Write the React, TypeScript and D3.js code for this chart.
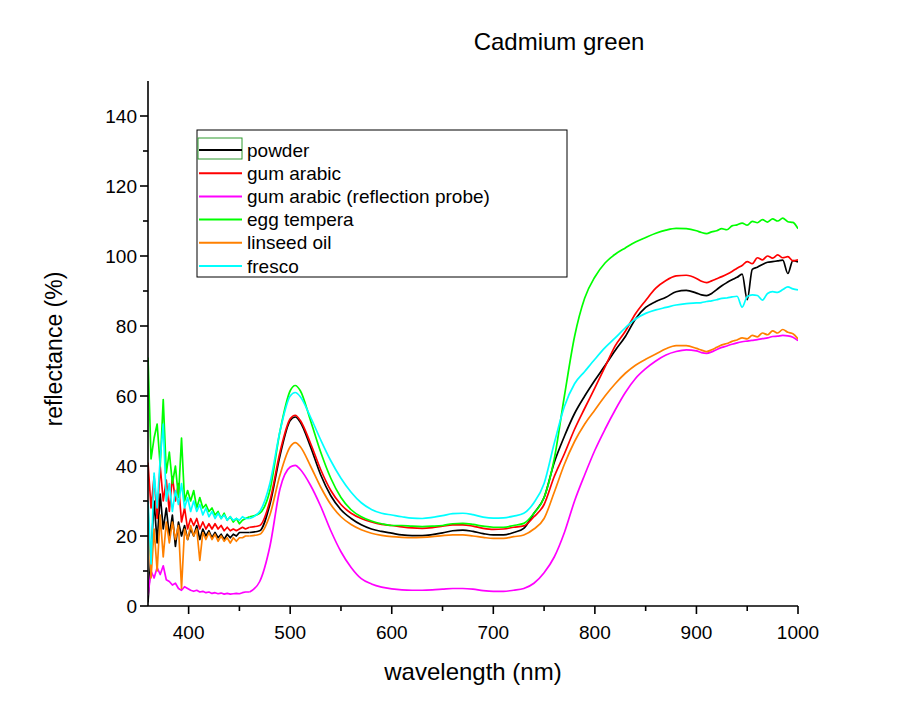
import React from 'react';
import * as d3 from 'd3';

// wavelength grid (nm): dense where the spectra are noisy
const wavelengths = [
  360, 363, 366, 369, 372, 375, 378, 381, 384, 387, 390, 393, 396, 399, 402, 405, 408, 411, 414, 417,
  420, 423, 426, 429, 432, 435, 438, 441, 444, 447, 450, 453, 456,
  460, 470, 480, 490, 500, 505, 510, 520, 530, 540, 550, 560, 570, 580, 590,
  600, 610, 620, 630, 640, 650, 660, 670, 680, 690,
  700, 710, 720, 730, 740, 750, 760, 770, 780, 790,
  800, 810, 820, 830, 840, 850, 860, 870, 880, 890,
  900, 905, 910, 915, 920, 925, 930, 935, 940, 945, 950, 955, 960, 965, 970, 975, 980, 985, 990, 995, 1000,
];
// index of 460 nm: noisy part before it is drawn with straight segments
const smoothFrom = 33;

const powder = [
  1, 15, 30, 18, 32, 22, 28, 20, 26, 17, 24, 20, 23, 19, 22, 20, 23, 19, 22, 20,
  21.5, 19.5, 21, 19.5, 20.5, 19, 20.5, 19.5, 20.5, 20, 21, 21, 21,
  21, 21.5, 29, 43, 53, 54, 52.5, 45.5, 37.5, 31.5, 27.5, 25, 23.2, 22, 21.3,
  20.8, 20.3, 20.1, 20.1, 20.4, 20.9, 21.5, 21.7, 21.3, 20.7,
  20.3, 20.3, 21, 22.2, 26.5, 31, 41, 48.5, 55, 60,
  64.5, 68.7, 73, 77, 82, 85.3, 87, 88.2, 89.8, 90.2,
  89.4, 88.9, 88.7, 89.3, 90.4, 91.5, 92.4, 93.2, 93.9, 94.8, 87.5, 96.2, 96.8, 97.6, 98.2, 98.4, 98.6, 98.8, 95, 98.7, 98.3,
];

const gumArabic = [
  41, 28, 37, 25, 40, 30, 36, 27, 37, 30, 35, 24, 28, 22, 25, 23, 25, 22, 24, 22,
  23.5, 22, 23.5, 22, 23, 21.5, 22.5, 21.5, 22, 21.5, 22, 22.5, 22,
  22.5, 23, 30, 44, 53.5, 54.5, 53, 46.5, 39, 33, 29, 26.5, 25, 24, 23.3,
  23, 22.6, 22.3, 22.2, 22.4, 22.8, 23.2, 23.2, 22.8, 22.2,
  21.9, 22, 22.5, 22.9, 25.5, 29, 37, 43.5, 50.5, 56.5,
  62.3, 68.3, 74.3, 78.5, 83.5, 87.3, 90.8, 93, 94.3, 94.5,
  93.6, 92.8, 92.4, 92.9, 93.5, 94.1, 94.8, 95.6, 96.5, 97.3, 98.4, 97.8, 99.5, 98.9, 100, 99.4, 100.3, 99.5, 99.8, 98.6, 98.9,
];

const gumArabicProbe = [
  3, 10, 8, 11, 9, 11.5, 7.5, 7, 6, 6.5, 5, 4.5, 5.5, 5, 4.5, 4.2, 4.5, 4, 4.2, 3.8,
  4, 3.6, 3.8, 3.5, 3.7, 3.4, 3.6, 3.4, 3.5, 3.6, 3.5, 3.8, 4,
  4, 7, 17, 33.5, 39.7, 40.2, 39, 34.5, 28.5, 21.5, 15.5, 11, 7.8, 6.3, 5.4,
  4.9, 4.6, 4.5, 4.5, 4.6, 4.8, 5, 5, 4.8, 4.4,
  4.2, 4.2, 4.5, 5, 6.5, 9.5, 14, 21, 30, 37.5,
  44.5, 50.5, 56, 61, 65, 67.8, 70, 71.7, 72.7, 73.2,
  72.9, 72.4, 72.2, 72.6, 73.3, 73.9, 74.3, 74.8, 75.2, 75.5, 75.7, 75.9, 76.1, 76.4, 76.6, 77, 77.1, 77.3, 77.2, 76.8, 75.8,
];

const eggTempera = [
  71, 42, 48, 52, 40, 59, 38, 44, 35, 40, 31, 48, 30, 33, 30, 33, 28, 31, 28, 29,
  27, 28, 26, 27, 25, 26.5, 24.5, 25.5, 24, 25, 23.5, 24.5, 25,
  25.5, 26.5, 33, 50, 61.5, 63, 61.5, 53, 44, 36.5, 31, 27.5, 25.5, 24.3, 23.5,
  23, 23, 22.8, 22.7, 22.8, 23, 23.5, 23.6, 23.3, 22.8,
  22.5, 22.5, 23, 23.6, 26.5, 31, 42, 60, 77, 88,
  94, 98, 100.5, 102.3, 104, 105.3, 106.5, 107.4, 107.9, 107.8,
  107.2, 106.7, 106.4, 106.9, 107.2, 107.8, 107.5, 108.6, 108.9, 109.4, 108.8, 109.9, 109.5, 110.4, 109.7, 110.6, 110, 110.8, 109.8, 109.6, 107.8,
];

const linseedOil = [
  28, 8, 22, 10, 26, 14, 24, 18, 24, 19, 23, 5, 22, 19, 23, 20, 22, 13, 21, 19,
  21, 19, 20.5, 18.5, 20, 18.5, 19.5, 18, 19.5, 18.5, 19.5, 19.5, 20,
  20, 20.5, 26, 37.5, 45.5, 46.7, 45.5, 40, 34, 29, 25.5, 23.3, 21.8, 20.8, 20.2,
  19.8, 19.6, 19.5, 19.6, 19.8, 20.1, 20.3, 20.3, 20, 19.6,
  19.3, 19.3, 19.8, 20.3, 22, 25, 32.5, 40.5, 47, 52,
  56, 60, 63.5, 66.5, 68.8, 70.5, 72, 73.5, 74.4, 74.4,
  73.6, 73.1, 72.7, 73.2, 73.9, 74.6, 75, 75.6, 76, 76.6, 76.3, 77.3, 76.9, 78, 77.5, 78.6, 78, 79, 78.2, 77.8, 76.3,
];

const fresco = [
  30, 12, 38, 28, 42, 52, 30, 35, 27, 33, 29, 35, 28, 31, 27, 30, 27, 29, 26, 28,
  25.5, 27, 25, 26.5, 25, 26, 24.5, 25.5, 24.5, 25, 24.5, 25.5, 25,
  25, 27, 35, 50, 60, 61, 59.8, 54, 47.5, 41.5, 36.5, 32.5, 29.5, 27.6, 26.5,
  26, 25.5, 25.1, 25, 25.3, 25.8, 26.4, 26.5, 26.1, 25.4,
  25.1, 25.2, 25.7, 26.5, 29.5, 35, 46.5, 57, 63.5, 67,
  70.5, 73.8, 76.6, 79.5, 82, 83.6, 84.6, 85.3, 86, 86.4,
  86.6, 86.7, 87, 87.2, 87.5, 87.9, 88, 88.3, 88.5, 85.4, 88.4, 88.9, 88.7, 87.4, 89.3, 89.8, 89.6, 90.4, 91.2, 90.6, 90.3,
];

const seriesNames = ['powder', 'gum arabic', 'gum arabic (reflection probe)', 'egg tempera', 'linseed oil', 'fresco'];
const seriesValues = [powder, gumArabic, gumArabicProbe, eggTempera, linseedOil, fresco];
const seriesColors = ['#000000', '#ff0000', '#ff00ff', '#00ff00', '#ff8000', '#00ffff'];

const xMajorTicks = [400, 500, 600, 700, 800, 900, 1000];
const xMinorTicks = [450, 550, 650, 750, 850, 950];
const yMajorTicks = [0, 20, 40, 60, 80, 100, 120, 140];
const yMinorTicks = [10, 30, 50, 70, 90, 110, 130];

const font = 'Arial, "Liberation Sans", sans-serif';

export default function App() {
  const x = d3.scaleLinear().domain([360, 1000]).range([148, 798]);
  const y = d3.scaleLinear().domain([0, 150]).range([606, 81]);

  const noisyLine = d3
    .line<number>()
    .x((_, i) => x(wavelengths[i]))
    .y((d) => y(d))
    .curve(d3.curveLinear);

  const smoothLine = d3
    .line<number>()
    .x((_, i) => x(wavelengths[i + smoothFrom]))
    .y((d) => y(d))
    .curve(d3.curveMonotoneX);

  const legendX = 197;
  const legendY = 130;
  const rowH = 23.2;

  return (
    <svg
      width={920}
      height={721}
      style={{ position: 'absolute', left: 0, top: 0, background: '#fff' }}
      fontFamily={font}
    >
      <defs>
        <clipPath id="plot-clip">
          <rect x={148} y={81} width={650} height={525} />
        </clipPath>
      </defs>

      {/* title */}
      <text x={559} y={50} textAnchor="middle" fontSize={24} fill="#000">
        Cadmium green
      </text>

      {/* curves */}
      <g clipPath="url(#plot-clip)">
        {seriesValues.map((vals, i) => (
          <g key={seriesNames[i]} fill="none" stroke={seriesColors[i]} strokeWidth={1.7} strokeLinejoin="round">
            <path d={noisyLine(vals.slice(0, smoothFrom + 1)) || ''} />
            <path d={smoothLine(vals.slice(smoothFrom)) || ''} />
          </g>
        ))}
      </g>

      {/* x axis */}
      <g>
        <line x1={148} x2={798} y1={606} y2={606} stroke="#000" strokeWidth={1.6} />
        {xMajorTicks.map((t) => (
          <g key={t}>
            <line x1={x(t)} x2={x(t)} y1={606} y2={614} stroke="#000" strokeWidth={1.6} />
            <text x={x(t)} y={639} textAnchor="middle" fontSize={19} fill="#000">
              {t}
            </text>
          </g>
        ))}
        {xMinorTicks.map((t) => (
          <line key={t} x1={x(t)} x2={x(t)} y1={606} y2={611} stroke="#000" strokeWidth={1.6} />
        ))}
        <text x={473} y={680} textAnchor="middle" fontSize={24} fill="#000">
          wavelength (nm)
        </text>
      </g>

      {/* y axis */}
      <g>
        <line x1={148} x2={148} y1={81} y2={606} stroke="#000" strokeWidth={1.6} />
        {yMajorTicks.map((t) => (
          <g key={t}>
            <line x1={140} x2={148} y1={y(t)} y2={y(t)} stroke="#000" strokeWidth={1.6} />
            <text x={137} y={y(t) + 7} textAnchor="end" fontSize={19} fill="#000">
              {t}
            </text>
          </g>
        ))}
        {yMinorTicks.map((t) => (
          <line key={t} x1={143} x2={148} y1={y(t)} y2={y(t)} stroke="#000" strokeWidth={1.6} />
        ))}
        <text
          transform="translate(62,349) rotate(-90)"
          textAnchor="middle"
          fontSize={23}
          fill="#000"
        >
          reflectance (%)
        </text>
      </g>

      {/* legend */}
      <g>
        <rect x={legendX} y={legendY} width={370} height={147} fill="#fff" stroke="#000" strokeWidth={1} />
        <rect x={198} y={138} width={44} height={21} fill="none" stroke="#2e9a2e" strokeWidth={1} />
        {seriesNames.map((name, i) => {
          const cy = 150 + i * rowH;
          return (
            <g key={name}>
              <line x1={199} x2={242} y1={cy} y2={cy} stroke={seriesColors[i]} strokeWidth={2} />
              <text x={247} y={cy + 6.5} fontSize={19} fill="#000">
                {name}
              </text>
            </g>
          );
        })}
      </g>
    </svg>
  );
}
